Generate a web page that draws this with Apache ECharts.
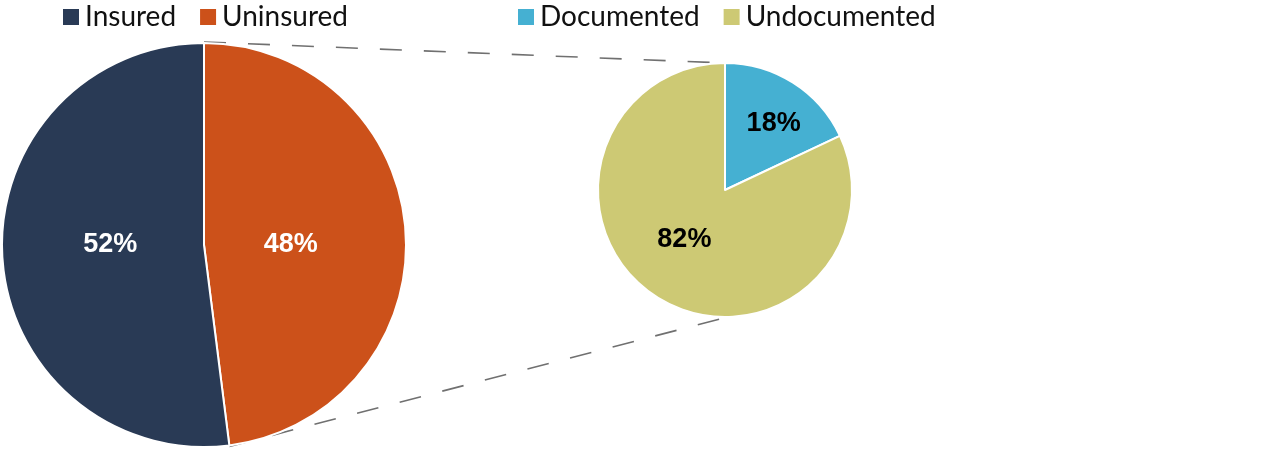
<!DOCTYPE html>
<html>
<head>
<meta charset="utf-8">
<script src="https://cdn.jsdelivr.net/npm/echarts@6/dist/echarts.min.js"></script>
<style>html,body{margin:0;padding:0;background:#fff;}#c{width:1280px;height:450px;}</style>
</head>
<body>
<div id="c"></div>
<script>
var insuranceNames = ['Uninsured', 'Insured'];
var insuranceValues = [48, 52];
var statusNames = ['Documented', 'Undocumented'];
var statusValues = [18, 82];
var legendOrder1 = ['Insured', 'Uninsured'];
var legendOrder2 = ['Documented', 'Undocumented'];

var colors = {Insured:'#293a55', Uninsured:'#cc511a', Documented:'#45b0d2', Undocumented:'#cdc974'};
// label nudges (style only)
var labelPad = {Insured:[0,0,0,20], Uninsured:[0,34,0,0], Documented:[0,0,0,26], Undocumented:[0,10,0,0]};
var labelShiftY = {Insured:-7, Uninsured:6, Documented:-10, Undocumented:-7};
var C1 = [204, 245], R1 = 202;
var C2 = [725, 190], R2 = 127;

var chart = echarts.init(document.getElementById('c'));

function mk(names, vals, col){
  return names.map(function(n,i){
    var dy = labelShiftY[n], h = Math.abs(dy)*2;
    return {name:n, value:vals[i], itemStyle:{color:colors[n]},
      label:{color:col, padding:labelPad[n],
        formatter:function(p){
          var t = '{v|' + p.value + '%}';
          return dy < 0 ? t + '\n{s| }' : '{s| }\n' + t;
        },
        rich:{v:{color:col, fontFamily:'Liberation Sans', fontWeight:'bold', fontSize:27, lineHeight:30},
              s:{fontSize:4, height:h, lineHeight:h}}
      }};
  });
}
var d1 = mk(insuranceNames, insuranceValues, '#fff');
var d2 = mk(statusNames, statusValues, '#000');

// connector lines derived from pie geometry and data
var total1 = insuranceValues.reduce(function(a,b){return a+b;},0);
var ang = insuranceValues[0]/total1*2*Math.PI;
var p1 = [C1[0] + R1*Math.sin(ang), C1[1] - R1*Math.cos(ang)];
var dashStyle = {stroke:'#707070', lineWidth:1.6, lineDash:[22,22]};

var legendText = {fontFamily:'Lato', fontSize:28, color:'#111'};
chart.setOption({
  animation:false,
  legend:[
    {data:legendOrder1, left:56, top:-2, itemWidth:18, itemHeight:18, itemGap:22, icon:'rect', textStyle:legendText, selectedMode:false},
    {data:legendOrder2, left:511, top:-2, itemWidth:18, itemHeight:18, itemGap:22, icon:'rect', textStyle:legendText, selectedMode:false}
  ],
  graphic:[
    {type:'line', z:-1, shape:{x1:C1[0], y1:C1[1]-R1-1, x2:C2[0], y2:C2[1]-R2}, style:dashStyle},
    {type:'line', z:-1, shape:{x1:p1[0], y1:p1[1]+1, x2:C2[0]+3, y2:C2[1]+R2}, style:dashStyle}
  ],
  series:[
    {type:'pie', center:C1, radius:R1, startAngle:90, clockwise:true, data:d1,
     itemStyle:{borderColor:'#fff', borderWidth:2},
     label:{position:'inside'},
     labelLine:{show:false}, emphasis:{disabled:true}},
    {type:'pie', center:C2, radius:R2, startAngle:90, clockwise:true, data:d2,
     itemStyle:{borderColor:'#fff', borderWidth:2},
     label:{position:'inside'},
     labelLine:{show:false}, emphasis:{disabled:true}}
  ]
});
</script>
</body>
</html>
